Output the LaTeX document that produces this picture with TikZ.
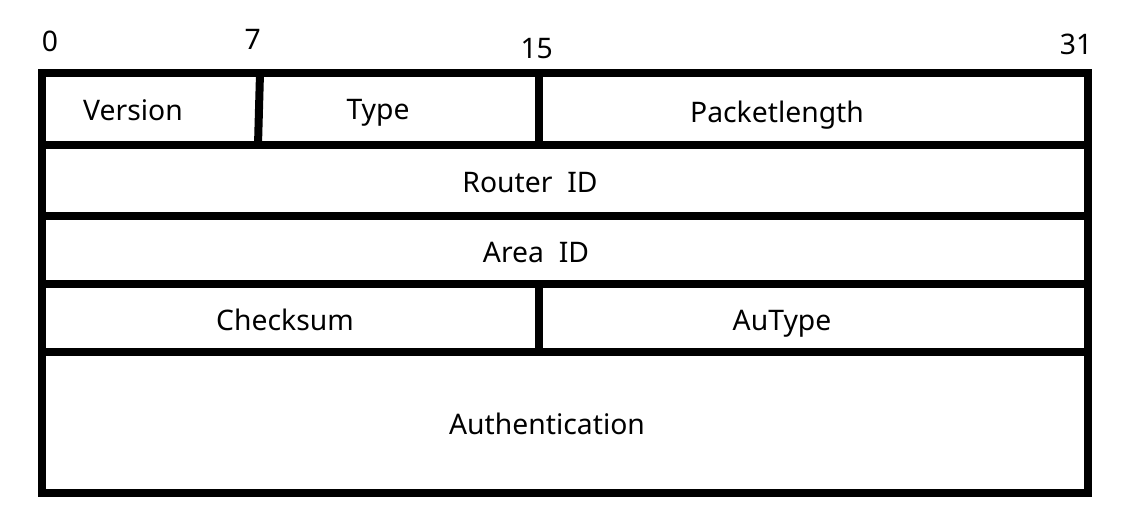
\documentclass[tikz,border=0pt]{standalone}
\usepackage{fontspec}
\setmainfont{Noto Sans}
\begin{document}
\begin{tikzpicture}[x=1pt,y=-1pt,
  grid/.style={line width=8pt,line join=miter},
  lbl/.style={anchor=base,inner sep=0pt,font=\fontsize{28.3}{30}\selectfont},
  num/.style={anchor=base,inner sep=0pt,font=\fontsize{28.3}{30}\selectfont}]
\useasboundingbox[fill=white] (0,0) rectangle (1128,532);
% grid coordinates
\coordinate (tl) at (41.5,73.3);
\coordinate (br) at (1087.5,493);
\draw[grid] (tl) rectangle (br);
\coordinate (r1l) at (41.5,145); \coordinate (r1r) at (1087.5,145);
\coordinate (r2l) at (41.5,216); \coordinate (r2r) at (1087.5,216);
\coordinate (r3l) at (41.5,284); \coordinate (r3r) at (1087.5,284);
\coordinate (r4l) at (41.5,352); \coordinate (r4r) at (1087.5,352);
\draw[grid] (r1l) -- (r1r);
\draw[grid] (r2l) -- (r2r);
\draw[grid] (r3l) -- (r3r);
\draw[grid] (r4l) -- (r4r);
\coordinate (c7t) at (260,73.3); \coordinate (c7b) at (258,145);
\coordinate (c15t) at (539,73.3); \coordinate (c15b) at (539,145);
\coordinate (c15t4) at (539,284); \coordinate (c15b4) at (539,352);
\draw[grid] (c7t) -- (c7b);
\draw[grid] (c15t) -- (c15b);
\draw[grid] (c15t4) -- (c15b4);
% bit numbers
\node[num] (n0) at (50,51.5) {0};
\node[num] (n7) at (252.7,50) {7};
\node[num] (n15) at (536.7,58.3) {15};
\node[num] (n31) at (1076,55) {31};
% field labels
\node[lbl] (version) at (133,121) {Version};
\node[lbl] (type) at (378,120) {Type};
\node[lbl] (plen) at (777,123) {Packetlength};
\node[lbl] (rid) at (530,193) {Router\ \ ID};
\node[lbl] (aid) at (536,262) {Area\ \ ID};
\node[lbl] (cks) at (285,330) {Checksum};
\node[lbl] (aut) at (782,330) {AuType};
\node[lbl] (auth) at (547,434) {Authentication};
\end{tikzpicture}
\end{document}
